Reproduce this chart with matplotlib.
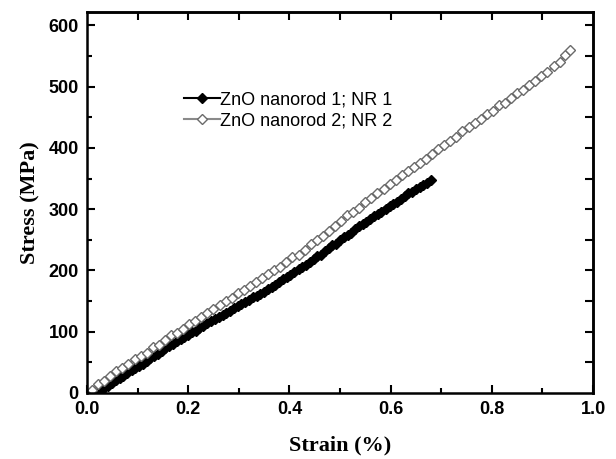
import matplotlib.pyplot as plt
from matplotlib.ticker import MultipleLocator, FormatStrFormatter

# NR 1 (filled diamonds), strain in %, stress in MPa
strain1 = [0.020, 0.028, 0.035, 0.042, 0.050, 0.058, 0.065, 0.072, 0.080, 0.088,
           0.095, 0.102, 0.110, 0.118, 0.125, 0.132, 0.140, 0.148, 0.155, 0.162,
           0.170, 0.178, 0.185, 0.192, 0.200, 0.208, 0.215, 0.222, 0.230, 0.238,
           0.245, 0.252, 0.260, 0.268, 0.275, 0.282, 0.290, 0.298, 0.305, 0.312,
           0.320, 0.328, 0.335, 0.342, 0.350, 0.358, 0.365, 0.372, 0.380, 0.388,
           0.395, 0.402, 0.410, 0.418, 0.425, 0.432, 0.440, 0.448, 0.455, 0.462,
           0.470, 0.478, 0.485, 0.492, 0.500, 0.508, 0.515, 0.522, 0.530, 0.538,
           0.545, 0.552, 0.560, 0.568, 0.575, 0.582, 0.590, 0.598, 0.605, 0.612,
           0.620, 0.628, 0.635, 0.642, 0.650, 0.658, 0.665, 0.672, 0.680]
stress1 = [0, 4, 9, 12, 16, 21, 25, 28, 32, 37,
           41, 44, 48, 53, 57, 60, 64, 69, 73, 76,
           80, 85, 88, 91, 95, 99, 102, 106, 110, 114,
           117, 120, 124, 128, 131, 134, 138, 142, 145, 148,
           151, 156, 159, 162, 165, 170, 173, 177, 181, 186,
           189, 192, 197, 202, 206, 209, 214, 219, 223, 226,
           231, 237, 241, 244, 249, 254, 258, 262, 267, 272,
           276, 279, 284, 289, 292, 296, 301, 306, 309, 312,
           317, 322, 326, 328, 333, 337, 340, 342, 347]

# NR 2 (open diamonds)
strain2 = [0.010, 0.022, 0.034, 0.046, 0.058, 0.070, 0.082, 0.094, 0.106, 0.118,
           0.130, 0.142, 0.154, 0.166, 0.178, 0.190, 0.202, 0.214, 0.226, 0.238,
           0.250, 0.262, 0.274, 0.286, 0.298, 0.310, 0.322, 0.334, 0.346, 0.358,
           0.370, 0.382, 0.394, 0.406, 0.418, 0.430, 0.442, 0.454, 0.466, 0.478,
           0.490, 0.502, 0.514, 0.526, 0.538, 0.550, 0.562, 0.574, 0.586, 0.598,
           0.610, 0.622, 0.634, 0.646, 0.658, 0.670, 0.682, 0.694, 0.706, 0.718,
           0.730, 0.742, 0.754, 0.766, 0.778, 0.790, 0.802, 0.814, 0.826, 0.838,
           0.850, 0.862, 0.874, 0.886, 0.898, 0.910, 0.922, 0.934, 0.944, 0.955]
stress2 = [5, 14, 20, 27, 36, 41, 47, 55, 60, 66,
           75, 79, 86, 94, 98, 104, 113, 117, 124, 131,
           137, 144, 150, 155, 163, 168, 174, 182, 188, 194,
           201, 206, 214, 222, 226, 234, 243, 250, 256, 265,
           272, 281, 290, 295, 302, 312, 318, 327, 333, 341,
           348, 356, 362, 369, 376, 382, 390, 398, 405, 412,
           418, 427, 434, 441, 448, 455, 461, 470, 474, 481,
           489, 495, 502, 510, 517, 524, 533, 540, 551, 560]

labels = ['ZnO nanorod 1; NR 1', 'ZnO nanorod 2; NR 2']

fig = plt.figure(figsize=(6.16, 4.59), dpi=100)
ax = fig.add_axes([0.1412, 0.1438, 0.8215, 0.8301])

ax.plot(strain1, stress1, color='black', lw=4, marker='D', ms=5,
        mfc='black', mec='black', label=labels[0])
ax.plot(strain2, stress2, color='#8a8a8a', lw=1.5, marker='D', ms=5,
        mfc='white', mec='#6a6a6a', mew=1.0, label=labels[1])

ax.set_xlim(0, 1.0)
ax.set_ylim(0, 622)
ax.xaxis.set_major_locator(MultipleLocator(0.2))
ax.xaxis.set_minor_locator(MultipleLocator(0.1))
ax.xaxis.set_major_formatter(FormatStrFormatter('%.1f'))
ax.yaxis.set_major_locator(MultipleLocator(100))
ax.yaxis.set_minor_locator(MultipleLocator(50))
ax.tick_params(which='major', direction='in', length=6, width=1.5, labelsize=13, pad=6)
ax.tick_params(which='minor', direction='in', length=3.5, width=1.5)
for lab in ax.get_xticklabels() + ax.get_yticklabels():
    lab.set_fontweight('bold')
    lab.set_family('Liberation Sans')

# top / right ticks: every 0.1 and every 50, all same length
sx = ax.secondary_xaxis('top')
sx.set_xticks([i / 10 for i in range(1, 10)])
sx.tick_params(direction='in', length=6, width=1.5, labeltop=False)
sy = ax.secondary_yaxis('right')
sy.set_yticks(list(range(50, 601, 50)))
sy.tick_params(direction='in', length=6, width=1.5, labelright=False)

for sp in ax.spines.values():
    sp.set_linewidth(1.8)
for sp in list(sx.spines.values()) + list(sy.spines.values()):
    sp.set_linewidth(1.8)

ax.set_xlabel('Strain (%)', family='Liberation Serif', fontweight='bold',
              fontsize=16, labelpad=12)
ax.set_ylabel('Stress (MPa)', family='Liberation Serif', fontweight='bold',
              fontsize=16, labelpad=6)

leg = ax.legend(loc='upper left', bbox_to_anchor=(0.16, 0.835), frameon=False,
                prop={'family': 'Liberation Sans', 'size': 13},
                handlelength=2.0, handletextpad=0.0, labelspacing=0.25)
for h in leg.get_lines():
    h.set_linewidth(1.5)

fig.savefig('out.png', dpi=100)
